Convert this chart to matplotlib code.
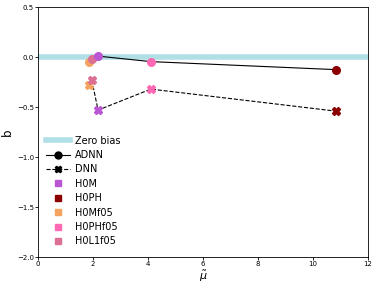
import matplotlib.pyplot as plt
from matplotlib.lines import Line2D

# data
models = ['H0Mf05', 'H0L1f05', 'H0M', 'H0PHf05', 'H0PH']
colors = ['sandybrown', 'palevioletred', 'mediumorchid', 'hotpink', 'darkred']
mu = [1.85, 1.95, 2.18, 4.10, 10.82]
b_adnn = [-0.05, -0.015, 0.01, -0.045, -0.125]
b_dnn = [-0.28, -0.23, -0.53, -0.32, -0.54]

legend_order = ['H0M', 'H0PH', 'H0Mf05', 'H0PHf05', 'H0L1f05']

fig = plt.figure(figsize=(3.74, 2.85), dpi=100)
ax = fig.add_axes([0.102, 0.098, 0.882, 0.877])

ax.axhline(0, color='powderblue', lw=4, zorder=1)
ax.plot(mu, b_adnn, color='black', lw=0.8, ls='-', zorder=2)
ax.plot(mu, b_dnn, color='black', lw=0.8, ls='--', zorder=2)
for m, c, x, ya, yd in zip(models, colors, mu, b_adnn, b_dnn):
    ax.plot(x, ya, 'o', color=c, ms=5.5, zorder=3)
    ax.plot(x, yd, 'X', color=c, ms=5.5, zorder=3)

ax.set_xlim(0, 12)
ax.set_ylim(-2.0, 0.5)
ax.set_xticks([0, 2, 4, 6, 8, 10, 12])
ax.set_yticks([0.5, 0.0, -0.5, -1.0, -1.5, -2.0])
ax.tick_params(labelsize=5, length=2, width=0.6, pad=1)
for s in ax.spines.values():
    s.set_linewidth(0.6)
ax.set_xlabel(r'$\tilde{\mu}$', fontsize=8, labelpad=1)
ax.set_ylabel('b', fontsize=8.5, labelpad=2)

cmap = dict(zip(models, colors))
handles = [Line2D([], [], color='powderblue', lw=4, label='Zero bias'),
           Line2D([], [], color='black', lw=0.8, marker='o', ms=5, label='ADNN'),
           Line2D([], [], color='black', lw=0.8, ls='--', marker='X', ms=5, label='DNN')]
for m in legend_order:
    handles.append(Line2D([], [], color=cmap[m], marker='s', ls='', ms=5, label=m))
ax.legend(handles=handles, loc='lower left', bbox_to_anchor=(0, 0.012),
          frameon=False, fontsize=7, handlelength=2.5, handletextpad=0.5,
          labelspacing=0.45, borderaxespad=0.6, borderpad=0.2)

fig.savefig('out.png', dpi=100)
